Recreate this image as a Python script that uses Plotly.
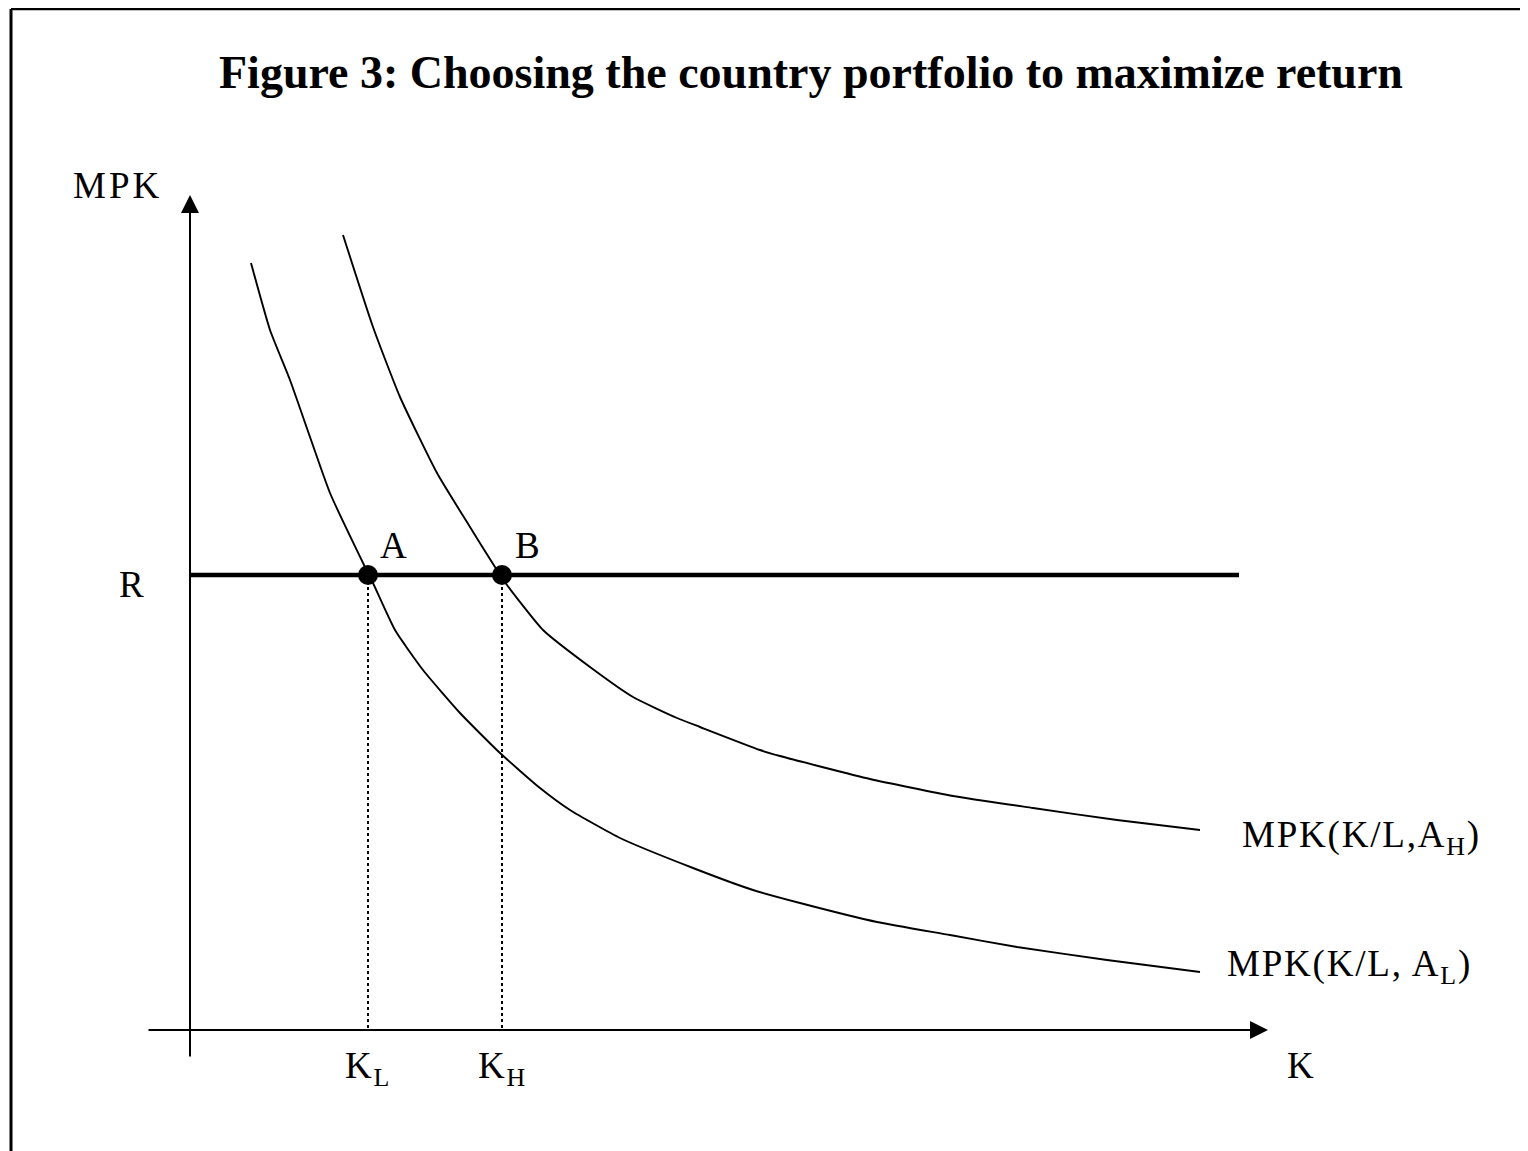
import plotly.graph_objects as go

# capital per worker (K) and marginal product of capital (MPK)
k_low = [0.61, 0.80, 1.00, 1.20, 1.40, 1.75, 1.83, 2.05, 2.33, 2.70, 3.10, 3.50, 3.80,
         4.30, 5.03, 5.63, 6.10, 6.87, 7.60, 8.27, 9.17, 10.10]
mpk_low = [7.67, 7.00, 6.50, 5.93, 5.37, 4.63, 4.47, 4.00, 3.60, 3.17, 2.77, 2.42, 2.20,
           1.92, 1.62, 1.40, 1.27, 1.08, 0.95, 0.83, 0.70, 0.58]

k_high = [1.53, 1.83, 2.10, 2.47, 2.80, 3.05, 3.17, 3.53, 4.00, 4.43, 4.87, 5.10, 5.70,
          5.90, 6.80, 7.63, 8.43, 9.27, 10.10]
mpk_high = [7.95, 7.03, 6.33, 5.57, 5.03, 4.63, 4.45, 4.00, 3.63, 3.33, 3.12, 3.03, 2.80,
            2.74, 2.51, 2.34, 2.22, 2.10, 2.00]

R = 4.55
K_L = 1.78
K_H = 3.12
r_line_end = 10.49

point_names = ["A", "B"]
point_k = [K_L, K_H]

FONT = "Liberation Serif"
# page body has an 8px margin, so the figure is a bit smaller than the window
W, H = 1520, 1143


def spaced(txt, px=1.8):
    return f'<span style="letter-spacing:{px}px">{txt}</span>'


fig = go.Figure()

# the two MPK schedules
fig.add_trace(go.Scatter(x=k_low, y=mpk_low, mode="lines",
                         line=dict(color="black", width=1.9, shape="spline", smoothing=0.5)))
fig.add_trace(go.Scatter(x=k_high, y=mpk_high, mode="lines",
                         line=dict(color="black", width=1.9, shape="spline", smoothing=0.5)))

# world return R
fig.add_trace(go.Scatter(x=[0, r_line_end], y=[R, R], mode="lines",
                         line=dict(color="black", width=4.5)))

# dotted drop lines to K_L and K_H
for k in point_k:
    fig.add_trace(go.Scatter(x=[k, k], y=[R, 0], mode="lines",
                             line=dict(color="black", width=2, dash="dot")))

# equilibrium points A and B
fig.add_trace(go.Scatter(x=point_k, y=[R, R], mode="markers",
                         marker=dict(color="black", size=20)))

# axes with arrow heads
fig.add_annotation(x=0, y=8.35, ax=0, ay=-0.28, xref="x", yref="y", axref="x", ayref="y",
                   text="", showarrow=True, arrowhead=2, arrowsize=1.8, arrowwidth=2,
                   arrowcolor="black")
fig.add_annotation(x=10.78, y=0, ax=-0.43, ay=0, xref="x", yref="y", axref="x", ayref="y",
                   text="", showarrow=True, arrowhead=2, arrowsize=1.8, arrowwidth=2,
                   arrowcolor="black")

lab = dict(showarrow=False, font=dict(family=FONT, size=37, color="black"),
           xanchor="center", yanchor="middle")
fig.add_annotation(x=-0.73, y=8.45, text=spaced("MPK", 3), **lab)
fig.add_annotation(x=-0.59, y=4.46, text="R", **lab)
for name, k in zip(point_names, point_k):
    fig.add_annotation(x=k + 0.25, y=4.85, text=name, **lab)
fig.add_annotation(x=K_L, y=-0.38, text=spaced("K<sub>L</sub>"), **lab)
fig.add_annotation(x=K_H, y=-0.38, text=spaced("K<sub>H</sub>"), **lab)
fig.add_annotation(x=11.10, y=-0.35, text="K", **lab)
fig.add_annotation(x=10.50, y=1.93, text=spaced("MPK(K/L,A<sub>H</sub>)"),
                   **{**lab, "xanchor": "left"})
fig.add_annotation(x=10.35, y=0.64, text=spaced("MPK(K/L, A<sub>L</sub>)"),
                   **{**lab, "xanchor": "left"})

fig.update_layout(
    width=W, height=H,
    margin=dict(l=0, r=0, t=0, b=0),
    paper_bgcolor="white", plot_bgcolor="white",
    showlegend=False,
    title=dict(text="<b>Figure 3: Choosing the country portfolio to maximize return</b>",
               x=803 / W, xanchor="center", y=1 - 64 / H, yanchor="middle",
               font=dict(family=FONT, size=46, color="black")),
    xaxis=dict(range=[-1.82, 13.38], visible=False, fixedrange=True),
    yaxis=dict(range=[-1.21, 10.22], visible=False, fixedrange=True),
    shapes=[
        dict(type="line", xref="paper", yref="paper", x0=3 / W, x1=3 / W,
             y0=1 - 1 / H, y1=-0.05, line=dict(color="black", width=3)),
        dict(type="line", xref="paper", yref="paper", x0=3 / W, x1=1.05,
             y0=1 - 1 / H, y1=1 - 1 / H, line=dict(color="black", width=2.5)),
    ],
)

fig.write_html("out.html")
